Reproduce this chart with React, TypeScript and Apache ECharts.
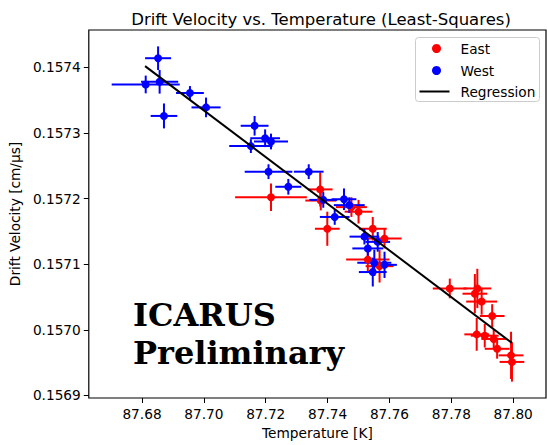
import React, { useEffect, useRef } from "react";
import * as echarts from "echarts";

// [temperature K, drift velocity cm/us, temperature error, velocity error]
const eastPoints: number[][] = [
  [87.7217, 0.157202, 0.0116, 0.000021],
  [87.7376, 0.157214, 0.004, 0.000026],
  [87.7378, 0.157197, 0.005, 0.000015],
  [87.7477, 0.157187, 0.005, 0.000015],
  [87.75, 0.15718, 0.0045, 0.000018],
  [87.7399, 0.157154, 0.004, 0.000026],
  [87.7546, 0.157154, 0.0045, 0.000018],
  [87.7584, 0.157139, 0.0055, 0.000015],
  [87.753, 0.157107, 0.007, 0.000018],
  [87.7568, 0.157097, 0.0045, 0.000025],
  [87.7795, 0.157063, 0.0055, 0.000015],
  [87.7876, 0.157055, 0.004, 0.00003],
  [87.7884, 0.157063, 0.0045, 0.00003],
  [87.7898, 0.157043, 0.005, 0.00002],
  [87.7932, 0.157021, 0.004, 0.000018],
  [87.7882, 0.156993, 0.004, 0.000025],
  [87.7908, 0.156991, 0.0045, 0.000018],
  [87.7937, 0.156986, 0.004, 0.000015],
  [87.7948, 0.156971, 0.004, 0.000015],
  [87.7993, 0.156961, 0.004, 0.000036],
  [87.7996, 0.156951, 0.004, 0.00003],
];

const westPoints: number[][] = [
  [87.6852, 0.157414, 0.0042, 0.000018],
  [87.6812, 0.157374, 0.011, 0.0000135],
  [87.6857, 0.157378, 0.006, 0.000018],
  [87.6871, 0.157326, 0.0043, 0.000019],
  [87.6955, 0.157361, 0.0045, 0.0000105],
  [87.7007, 0.157339, 0.0047, 0.000015],
  [87.7164, 0.157311, 0.0045, 0.000015],
  [87.7198, 0.157292, 0.0048, 0.0000135],
  [87.7217, 0.157287, 0.0055, 0.000012],
  [87.7152, 0.15728, 0.007, 0.0000105],
  [87.7209, 0.157241, 0.0077, 0.0000113],
  [87.7339, 0.157241, 0.0048, 0.0000113],
  [87.7273, 0.157218, 0.0042, 0.000012],
  [87.7386, 0.157198, 0.0045, 0.000012],
  [87.7453, 0.157199, 0.004, 0.0000165],
  [87.747, 0.15719, 0.005, 0.000012],
  [87.7423, 0.157172, 0.0048, 0.000012],
  [87.7519, 0.157142, 0.0048, 0.000012],
  [87.7562, 0.157134, 0.004, 0.000015],
  [87.753, 0.157124, 0.005, 0.000015],
  [87.7551, 0.157102, 0.0055, 0.00002],
  [87.7584, 0.157099, 0.004, 0.00002],
  [87.7546, 0.157088, 0.0045, 0.000022],
];

// least-squares fit, drawn between its end points
const regressionLine: number[][] = [
  [87.681, 0.157402],
  [87.7996, 0.15698],
];

const xTicks = [87.68, 87.7, 87.72, 87.74, 87.76, 87.78, 87.8];
const yTicks = [0.1569, 0.157, 0.1571, 0.1572, 0.1573, 0.1574];

const FONT = "DejaVu Sans";
const EAST_COLOR = "#ff0000";
const WEST_COLOR = "#0000ff";

function errorBars(name: string, points: number[][], color: string) {
  return {
    name,
    type: "custom",
    data: points,
    encode: { x: 0, y: 1 },
    renderItem: (_params: any, api: any) => {
      const x = api.value(0);
      const y = api.value(1);
      const xe = api.value(2);
      const ye = api.value(3);
      const l = api.coord([x - xe, y]);
      const r = api.coord([x + xe, y]);
      const t = api.coord([x, y + ye]);
      const b = api.coord([x, y - ye]);
      const style = { stroke: color, lineWidth: 2 };
      return {
        type: "group",
        children: [
          { type: "line", shape: { x1: l[0], y1: l[1], x2: r[0], y2: r[1] }, style },
          { type: "line", shape: { x1: t[0], y1: t[1], x2: b[0], y2: b[1] }, style },
        ],
      };
    },
  };
}

function markers(name: string, points: number[][], color: string) {
  return {
    name,
    type: "scatter",
    data: points.map((p) => [p[0], p[1]]),
    symbol: "circle",
    symbolSize: 8,
    itemStyle: { color, opacity: 1 },
  };
}

export default function App() {
  const ref = useRef<HTMLDivElement>(null);

  useEffect(() => {
    document.body.style.margin = "0";
    if (!ref.current) return;
    const chart = echarts.init(ref.current, undefined, { renderer: "svg" });
    chart.setOption({
      animation: false,
      backgroundColor: "#ffffff",
      title: {
        text: "Drift Velocity vs. Temperature (Least-Squares)",
        left: 316,
        textAlign: "center",
        top: 6,
        textStyle: { fontFamily: FONT, fontSize: 16.5, fontWeight: "normal", color: "#000" },
      },
      grid: {
        left: 86,
        right: 1,
        top: 30,
        bottom: 42,
        show: true,
        borderColor: "#000",
        borderWidth: 1.2,
        backgroundColor: "transparent",
      },
      xAxis: {
        type: "value",
        min: 87.6628,
        max: 87.8106,
        name: "Temperature [K]",
        nameLocation: "middle",
        nameGap: 28,
        nameTextStyle: { fontFamily: FONT, fontSize: 13.7, color: "#000" },
        axisLine: { show: false },
        axisTick: { show: true, customValues: xTicks, length: 5, lineStyle: { color: "#000", width: 1 } },
        axisLabel: {
          customValues: xTicks,
          formatter: (v: number) => v.toFixed(2),
          margin: 9,
          fontFamily: FONT,
          fontSize: 13.7,
          color: "#000",
        },
        splitLine: { show: false },
      },
      yAxis: {
        type: "value",
        min: 0.156896,
        max: 0.157457,
        name: "Drift Velocity [cm/μs]",
        nameLocation: "middle",
        nameGap: 64,
        nameTextStyle: { fontFamily: FONT, fontSize: 13.7, color: "#000" },
        axisLine: { show: false },
        axisTick: { show: true, customValues: yTicks, length: 5, lineStyle: { color: "#000", width: 1 } },
        axisLabel: {
          customValues: yTicks,
          formatter: (v: number) => v.toFixed(4),
          margin: 8,
          fontFamily: FONT,
          fontSize: 13.7,
          color: "#000",
        },
        splitLine: { show: false },
      },
      series: [
        errorBars("East", eastPoints, EAST_COLOR),
        markers("East", eastPoints, EAST_COLOR),
        errorBars("West", westPoints, WEST_COLOR),
        markers("West", westPoints, WEST_COLOR),
        {
          name: "Regression",
          type: "line",
          data: regressionLine,
          symbol: "none",
          lineStyle: { color: "#000", width: 2 },
          z: 5,
        },
      ],
      graphic: [
        {
          type: "text",
          left: 133,
          top: 296,
          style: {
            text: "ICARUS\nPreliminary",
            fontFamily: "DejaVu Serif",
            fontWeight: "bold",
            fontSize: 32,
            lineHeight: 38,
            fill: "#000",
          },
          z: 10,
        },
        {
          type: "group",
          left: 415,
          top: 37,
          z: 20,
          children: [
            {
              type: "rect",
              shape: { x: 0, y: 0, width: 124, height: 64, r: 3 },
              style: { fill: "rgba(255,255,255,0.8)", stroke: "#cccccc", lineWidth: 1 },
            },
            { type: "circle", shape: { cx: 21, cy: 11, r: 4.5 }, style: { fill: EAST_COLOR } },
            { type: "circle", shape: { cx: 21, cy: 33, r: 4.5 }, style: { fill: WEST_COLOR } },
            { type: "line", shape: { x1: 4, y1: 54, x2: 34, y2: 54 }, style: { stroke: "#000", lineWidth: 2 } },
            {
              type: "text",
              x: 45,
              y: 11,
              style: { text: "East", fontFamily: FONT, fontSize: 13.7, fill: "#000", textVerticalAlign: "middle" },
            },
            {
              type: "text",
              x: 45,
              y: 33,
              style: { text: "West", fontFamily: FONT, fontSize: 13.7, fill: "#000", textVerticalAlign: "middle" },
            },
            {
              type: "text",
              x: 45,
              y: 54,
              style: { text: "Regression", fontFamily: FONT, fontSize: 13.7, fill: "#000", textVerticalAlign: "middle" },
            },
          ],
        },
      ],
    });
    return () => chart.dispose();
  }, []);

  return <div ref={ref} style={{ width: 547, height: 445 }} />;
}
